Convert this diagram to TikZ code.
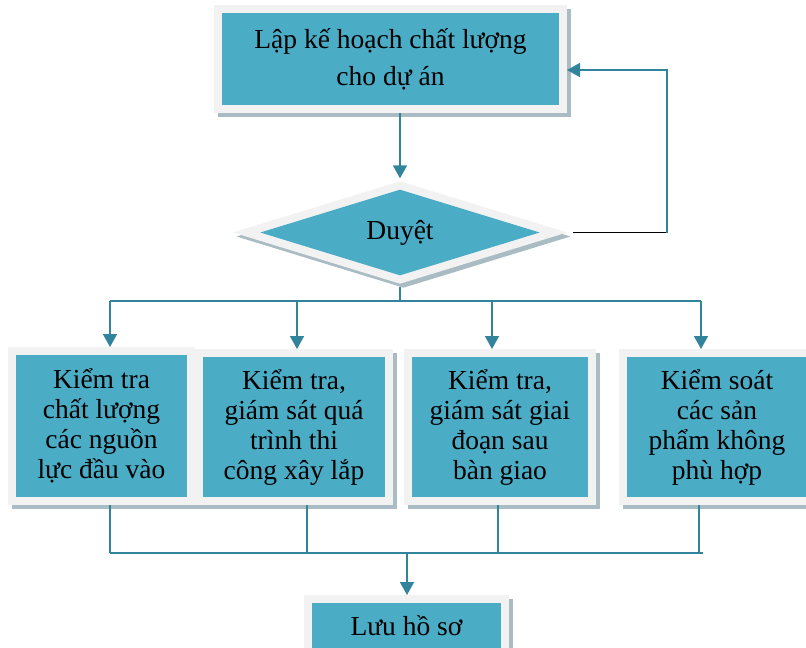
\documentclass[tikz,border=0pt]{standalone}
\usepackage{fontspec}
\setmainfont{Liberation Serif}
\usetikzlibrary{arrows.meta,shapes.geometric}
\definecolor{boxfill}{HTML}{4BACC6}
\definecolor{framegray}{HTML}{F2F2F2}
\definecolor{shadowgray}{HTML}{A9BCC3}
\definecolor{linkteal}{HTML}{31849B}

\begin{document}
\begin{tikzpicture}[x=1pt, y=-1pt,
    framed/.style={fill=boxfill, inner sep=0pt, outer sep=8pt, line join=miter,
      preaction={draw=shadowgray, line width=16pt, transform canvas={shift={(3.5pt,-4pt)}}},
      preaction={draw=framegray, line width=16pt}},
    box/.style={framed, rectangle, align=center, font=\fontsize{27.5}{30}\selectfont},
    gate/.style={framed, diamond, font=\fontsize{27.5}{30}\selectfont},
    link/.style={draw=linkteal, line width=1.5pt},
    arrowed/.style={-{Triangle[width=14pt,length=13pt]}}]
    \useasboundingbox (0,0) rectangle (806,648);
    \clip (0,0) rectangle (806,648);

    \node[box, minimum width=337pt, minimum height=92pt, font=\fontsize{27.5}{37}\selectfont] (plan) at (390.5,59) {\raisebox{-4pt}{\shortstack{Lập kế hoạch chất lượng\\[9pt]cho dự án}}};
    \node[gate, minimum width=286pt, minimum height=85pt] (duyet) at (400,232.5) {Duyệt};
    \node[box, minimum width=171pt, minimum height=142pt] (kt1) at (101.5,426) {Kiểm tra\\chất lượng\\các nguồn\\lực đầu vào};
    \node[box, minimum width=182pt, minimum height=140pt] (kt2) at (294,427) {Kiểm tra,\\giám sát quá\\trình thi\\công xây lắp};
    \node[box, minimum width=176pt, minimum height=140pt] (kt3) at (500,427) {Kiểm tra,\\giám sát giai\\đoạn sau\\bàn giao};
    \node[box, minimum width=180pt, minimum height=140pt] (kt4) at (717,427) {Kiểm soát\\các sản\\phẩm không\\phù hợp};
    \node[box, minimum width=189pt, minimum height=46pt] (luu) at (406.5,626) {Lưu hồ sơ};

    \coordinate (fb) at (667,70);
    \coordinate (split) at (400,301);
    \coordinate (merge) at (407,553);

    % duyet -> plan, feedback loop
    \draw[link, arrowed] (duyet.north |- plan.south) -- (duyet.north);
    \draw[black, line width=1.5pt] ([xshift=22pt]duyet.east) -- (duyet.east -| fb);
    \draw[link, arrowed] (duyet.east -| fb) -- (fb) -- (fb -| plan.east);

    % branches
    \draw[link] (duyet.south) -- (split);
    \draw[link] ([xshift=8.5pt]kt1.north |- split) -- ([xshift=-16pt]kt4.north |- split);
    \foreach \b/\dx in {kt1/8.5, kt2/3, kt3/-8, kt4/-16}
        \draw[link, arrowed] ([xshift=\dx pt]\b.north |- split) -- ([xshift=\dx pt]\b.north);

    % merge into records
    \foreach \b/\dx in {kt1/8.5, kt2/13, kt3/-2, kt4/-18}
        \draw[link] ([xshift=\dx pt]\b.south) -- ([xshift=\dx pt]\b.south |- merge);
    \draw[link] ([xshift=8.5pt]kt1.south |- merge) -- ([xshift=-14pt]kt4.south |- merge);
    \draw[link, arrowed] (merge) -- (merge |- luu.north);
\end{tikzpicture}
\end{document}
